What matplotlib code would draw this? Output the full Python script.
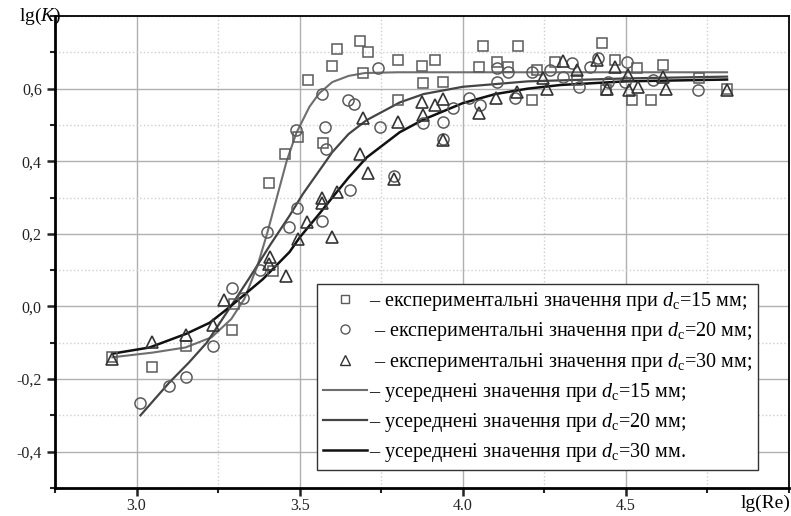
import matplotlib
matplotlib.use("Agg")
import matplotlib.pyplot as plt
from matplotlib.lines import Line2D
from matplotlib.ticker import MultipleLocator, FuncFormatter

plt.rcParams['font.family'] = ['Liberation Serif', 'DejaVu Serif']
plt.rcParams['mathtext.fontset'] = 'custom'
plt.rcParams['mathtext.rm'] = 'Liberation Serif'
plt.rcParams['mathtext.it'] = 'Liberation Serif:italic'

# experimental points, d_c = 15 mm (squares)
sq_x = [2.926, 3.046, 3.153, 3.294, 3.30, 3.417, 3.405, 3.454, 3.494, 3.525, 3.571,
        3.60, 3.613, 3.684, 3.693, 3.709, 3.80, 3.80, 3.874, 3.877, 3.914, 3.939,
        4.049, 4.061, 4.104, 4.138, 4.169, 4.212, 4.227, 4.282, 4.35, 4.426, 4.44,
        4.466, 4.518, 4.534, 4.577, 4.613, 4.724, 4.81]
sq_y = [-0.138, -0.168, -0.11, -0.066, 0.008, 0.099, 0.34, 0.42, 0.466, 0.623, 0.45,
        0.662, 0.71, 0.731, 0.642, 0.70, 0.68, 0.568, 0.662, 0.615, 0.68, 0.618,
        0.66, 0.718, 0.674, 0.66, 0.718, 0.568, 0.651, 0.674, 0.623, 0.725, 0.596,
        0.68, 0.568, 0.656, 0.568, 0.665, 0.628, 0.60]

# experimental points, d_c = 20 mm (circles)
ci_x = [3.012, 3.10, 3.153, 3.233, 3.294, 3.325, 3.377, 3.40, 3.466, 3.491, 3.49,
        3.567, 3.577, 3.58, 3.57, 3.653, 3.648, 3.666, 3.74, 3.745, 3.79, 3.877,
        3.939, 3.939, 3.97, 4.02, 4.052, 4.104, 4.104, 4.138, 4.16, 4.212, 4.267,
        4.307, 4.334, 4.356, 4.39, 4.414, 4.445, 4.497, 4.503, 4.583, 4.72]
ci_y = [-0.265, -0.22, -0.195, -0.11, 0.052, 0.022, 0.10, 0.204, 0.218, 0.272, 0.486,
        0.585, 0.494, 0.435, 0.235, 0.32, 0.57, 0.557, 0.656, 0.493, 0.36, 0.504,
        0.508, 0.46, 0.546, 0.573, 0.554, 0.618, 0.656, 0.646, 0.573, 0.646, 0.651,
        0.632, 0.67, 0.604, 0.66, 0.684, 0.618, 0.618, 0.673, 0.623, 0.596]

# experimental points, d_c = 30 mm (triangles)
tr_x = [2.926, 3.046, 3.153, 3.233, 3.267, 3.408, 3.405, 3.457, 3.494, 3.521, 3.567,
        3.57, 3.613, 3.598, 3.684, 3.693, 3.709, 3.79, 3.80, 3.874, 3.877, 3.914,
        3.939, 3.939, 4.049, 4.101, 4.166, 4.245, 4.258, 4.306, 4.35, 4.41, 4.442,
        4.466, 4.506, 4.509, 4.537, 4.613, 4.623, 4.81]
tr_y = [-0.146, -0.097, -0.08, -0.052, 0.017, 0.135, 0.116, 0.083, 0.187, 0.232, 0.30,
        0.284, 0.315, 0.19, 0.42, 0.518, 0.367, 0.35, 0.508, 0.563, 0.527, 0.555,
        0.571, 0.458, 0.533, 0.573, 0.59, 0.628, 0.598, 0.676, 0.651, 0.679, 0.60,
        0.66, 0.637, 0.596, 0.604, 0.632, 0.598, 0.596]

# averaged curves
fit15_x = [2.926, 3.05, 3.15, 3.23, 3.29, 3.33, 3.37, 3.40, 3.43, 3.46, 3.49, 3.53,
           3.56, 3.60, 3.65, 3.70, 3.80, 4.0, 4.5, 4.81]
fit15_y = [-0.14, -0.127, -0.113, -0.085, -0.035, 0.02, 0.11, 0.20, 0.30, 0.40, 0.478,
           0.55, 0.587, 0.618, 0.635, 0.643, 0.645, 0.645, 0.645, 0.645]
fit20_x = [3.012, 3.10, 3.16, 3.215, 3.285, 3.347, 3.41, 3.469, 3.51, 3.561, 3.60,
           3.65, 3.705, 3.807, 3.88, 4.0, 4.2, 4.5, 4.81]
fit20_y = [-0.30, -0.21, -0.155, -0.1, -0.005, 0.08, 0.17, 0.25, 0.31, 0.375, 0.425,
           0.475, 0.513, 0.562, 0.585, 0.605, 0.62, 0.628, 0.633]
fit30_x = [2.926, 3.04, 3.153, 3.224, 3.285, 3.387, 3.469, 3.50, 3.561, 3.60, 3.65,
           3.705, 3.807, 3.88, 4.0, 4.1, 4.2, 4.3, 4.5, 4.81]
fit30_y = [-0.13, -0.113, -0.075, -0.045, -0.002, 0.075, 0.15, 0.19, 0.256, 0.30,
           0.355, 0.41, 0.48, 0.515, 0.56, 0.585, 0.60, 0.61, 0.62, 0.625]

labels = ['– експериментальні значення при $d_{\\rm c}$=15 мм;',
          ' – експериментальні значення при $d_{\\rm c}$=20 мм;',
          ' – експериментальні значення при $d_{\\rm c}$=30 мм;',
          '– усереднені значення при $d_{\\rm c}$=15 мм;',
          '– усереднені значення при $d_{\\rm c}$=20 мм;',
          '– усереднені значення при $d_{\\rm c}$=30 мм.']

fig = plt.figure(figsize=(7.91, 5.16), dpi=100)
ax = fig.add_axes([0.0695, 0.0543, 0.928, 0.9147])

mc = '#5a5a5a'
ax.plot(fit15_x, fit15_y, color='#6e6e6e', lw=1.5, zorder=3)
ax.plot(fit20_x, fit20_y, color='#444444', lw=1.6, zorder=3)
ax.plot(fit30_x, fit30_y, color='#111111', lw=1.8, zorder=3)
ax.plot(sq_x, sq_y, 's', ms=7.5, mfc='none', mec=mc, mew=1.1, zorder=4)
ax.plot(ci_x, ci_y, 'o', ms=8, mfc='none', mec=mc, mew=1.1, zorder=4)
ax.plot(tr_x, tr_y, '^', ms=8.5, mfc='none', mec='#333333', mew=1.2, zorder=4)

ax.set_xlim(2.75, 5.0)
ax.set_ylim(-0.5, 0.8)
ax.xaxis.set_minor_locator(MultipleLocator(0.25))
ax.yaxis.set_minor_locator(MultipleLocator(0.1))
ax.set_xticks([3.0, 3.5, 4.0, 4.5])
ax.set_yticks([-0.4, -0.2, 0.0, 0.2, 0.4, 0.6])
ax.xaxis.set_major_formatter(FuncFormatter(lambda v, p: f'{v:.1f}'))
ax.yaxis.set_major_formatter(FuncFormatter(lambda v, p: f'{v:.1f}'.replace('.', ',')))

ax.grid(which='major', color='#b0b0b0', lw=1.0, ls='-')
ax.grid(which='minor', color='#cfcfcf', lw=1.0, ls=':')
ax.set_axisbelow(True)

ax.tick_params(which='major', direction='out', length=6, width=1.8, labelsize=11.5,
               top=False, right=False, colors='#222222')
ax.tick_params(which='minor', direction='out', length=3.5, width=1.5,
               top=False, right=False, colors='#222222')
ax.tick_params(axis='x', which='major', pad=1.0)
for s in ['left', 'bottom']:
    ax.spines[s].set_linewidth(2.0)
for s in ['top', 'right']:
    ax.spines[s].set_linewidth(1.3)

handles = [Line2D([], [], ls='none', marker='s', ms=6, mfc='none', mec=mc, mew=1.0),
           Line2D([], [], ls='none', marker='o', ms=6.5, mfc='none', mec=mc, mew=1.0),
           Line2D([], [], ls='none', marker='^', ms=6.5, mfc='none', mec='#333333', mew=1.0),
           Line2D([], [], color='#6e6e6e', lw=1.5),
           Line2D([], [], color='#444444', lw=1.6),
           Line2D([], [], color='#111111', lw=1.8)]
leg = ax.legend(handles, labels, loc='upper left', bbox_to_anchor=(0.357, 0.432),
                borderaxespad=0, fontsize=14.5, handlelength=2.2, handletextpad=0.1,
                labelspacing=0.36, fancybox=False, framealpha=1, edgecolor='#333333',
                borderpad=0.3)
leg.get_frame().set_linewidth(1.0)
leg.set_zorder(5)

fig.text(0.051, 0.969, 'lg($\\it{K}$)', fontsize=14, ha='center', va='center')
fig.text(0.999, 0.025, 'lg(Re)', fontsize=14, ha='right', va='center')

fig.savefig('out.png', dpi=100)
